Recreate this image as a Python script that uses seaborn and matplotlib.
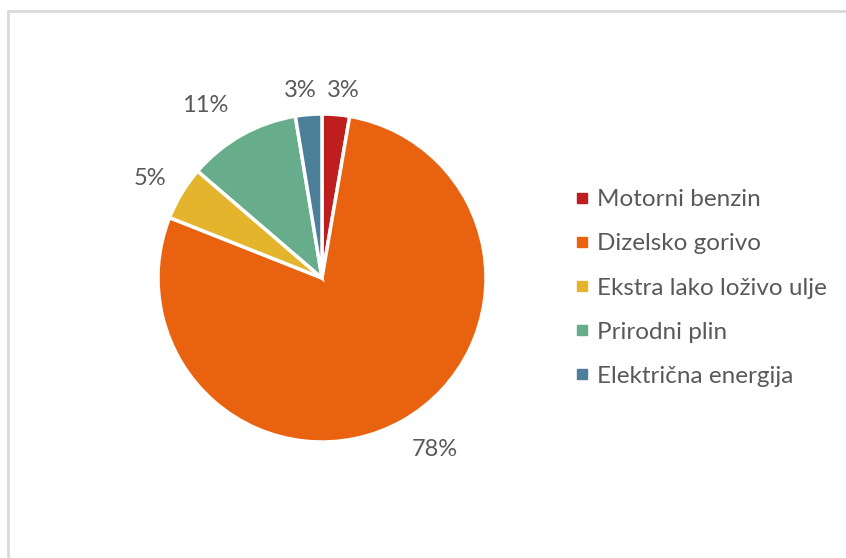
import matplotlib
matplotlib.use("Agg")
import matplotlib.pyplot as plt
from matplotlib.lines import Line2D
import seaborn as sns
import numpy as np

# data
categories = ["Motorni benzin", "Dizelsko gorivo", "Ekstra lako loživo ulje",
              "Prirodni plin", "Električna energija"]
shares = [2.7, 78.3, 5.3, 11.1, 2.6]
colors = ["#BE1E1E", "#E9620F", "#E4B52C", "#67AD8C", "#4C7F99"]

sns.set_theme(style="white")
plt.rcParams['font.family'] = ['Lato', 'DejaVu Sans']
text_color = "#595959"

W, H = 846, 558
fig = plt.figure(figsize=(W / 100, H / 100), dpi=100)

# pie centred at (322, 278) px with radius 164 px
cx, cy, r = 322, 278, 164
ax = fig.add_axes([(cx - r) / W, 1 - (cy + r) / H, 2 * r / W, 2 * r / H])
palette = sns.color_palette(colors)

wedges, _ = ax.pie(shares, colors=palette, startangle=90, counterclock=False,
                   radius=1, wedgeprops=dict(edgecolor="white", linewidth=2.5))
ax.set_xlim(-1, 1)
ax.set_ylim(-1, 1)
ax.set_aspect("equal")
ax.axis("off")

# percentage labels placed outside each wedge (Excel "best fit" look)
label_dist = [1.15, 1.255, 1.21, 1.27, 1.15]
label_turn = [-1.5, 4.0, 1.0, 4.8, 2.0]
for w, val, d, t in zip(wedges, shares, label_dist, label_turn):
    mid = np.deg2rad((w.theta1 + w.theta2) / 2 + t)
    ax.text(d * np.cos(mid), d * np.sin(mid), f"{val:.0f}%",
            ha="center", va="center", fontsize=17, color=text_color,
            clip_on=False)

handles = [Line2D([], [], marker="s", linestyle="none", markersize=7,
                  markerfacecolor=c, markeredgecolor=c) for c in colors]
fig.legend(handles, categories, loc="center left",
           bbox_to_anchor=(548 / W, 1 - 288 / H), frameon=False,
           fontsize=17.5, labelcolor=text_color, handletextpad=0.1,
           labelspacing=0.95, handlelength=1.0)

# light chart border (top and left visible)
border = "#D9D9D9"
fig.add_artist(Line2D([8 / W, 1], [1 - 11 / H, 1 - 11 / H], color=border,
                      linewidth=2, transform=fig.transFigure))
fig.add_artist(Line2D([8 / W, 8 / W], [1 - 11 / H, 0], color=border,
                      linewidth=2, transform=fig.transFigure))

fig.savefig("out.png", dpi=100, facecolor="white")
